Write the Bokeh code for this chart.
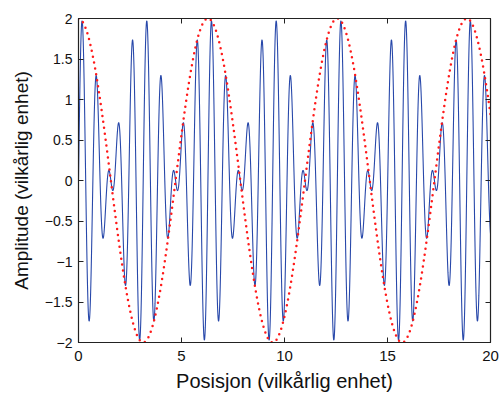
import numpy as np
from bokeh.plotting import figure
from bokeh.models import Range1d, LinearAxis, FixedTicker
from bokeh.embed import file_html
from bokeh.resources import INLINE

# --- data ---
x_min, x_max = 0, 20
y_min, y_max = -2, 2
x_ticks = [0, 5, 10, 15, 20]
x_tick_labels = ["0", "5", "10", "15", "20"]
y_ticks = [-2, -1.5, -1, -0.5, 0, 0.5, 1, 1.5, 2]
y_tick_labels = ["\u22122", "\u22121.5", "\u22121", "\u22120.5", "0", "0.5", "1", "1.5", "2"]

# blue curve: superposition of two waves of equal amplitude (wavenumbers 8 and 10)
wave_amplitudes = [1.0, 1.0]
wave_numbers = [8.0, 10.0]
# red dotted curve: envelope, amplitude 2, wavenumber 1
envelope_amplitude = 2.0
envelope_wavenumber = 1.0

x_label = "Posisjon (vilkårlig enhet)"
y_label = "Amplitude (vilkårlig enhet)"

xs = np.linspace(x_min, x_max, 4001)
blue = sum(a * np.sin(k * xs) for a, k in zip(wave_amplitudes, wave_numbers))
red = envelope_amplitude * np.cos(envelope_wavenumber * xs)

FONT = "Liberation Sans"

p = figure(width=503, height=394, output_backend="svg", toolbar_location=None,
           x_range=Range1d(x_min, x_max), y_range=Range1d(y_min, y_max),
           min_border_left=78, min_border_right=13, min_border_top=18, min_border_bottom=49)
p.background_fill_color = "white"
p.border_fill_color = "white"
p.outline_line_color = "#222222"
p.outline_line_width = 1.2
p.xgrid.visible = False
p.ygrid.visible = False

p.line(xs, blue, line_color="#2848aa", line_width=1.1)
p.line(xs, red, line_color="#ff1a1a", line_width=2.5, line_dash="0 6", line_cap="round")

def style(ax, ticks, labels, size="14px", show_labels=True):
    ax.ticker = FixedTicker(ticks=ticks)
    ax.major_label_overrides = {float(t): s for t, s in zip(ticks, labels)}
    ax.major_tick_in = 5
    ax.major_tick_out = 0
    ax.minor_tick_line_color = None
    ax.major_tick_line_color = "#222222"
    ax.axis_line_color = "#222222"
    ax.major_label_text_font = FONT
    ax.major_label_text_font_size = size
    ax.major_label_text_color = "#111111" if show_labels else None
    ax.axis_label_text_font = FONT
    ax.axis_label_text_font_style = "normal"
    ax.axis_label_text_color = "#111111"

style(p.xaxis[0], x_ticks, x_tick_labels, size="15px")
style(p.yaxis[0], y_ticks, y_tick_labels, size="14px")
p.xaxis[0].axis_label = x_label
p.yaxis[0].axis_label = y_label
p.xaxis[0].axis_label_text_font_size = "20px"
p.yaxis[0].axis_label_text_font_size = "19px"
p.xaxis[0].major_label_standoff = 8
p.yaxis[0].major_label_standoff = 6
p.xaxis[0].axis_label_standoff = 6
p.yaxis[0].axis_label_standoff = 10

top = LinearAxis()
style(top, x_ticks, x_tick_labels, size="1px", show_labels=False)
top.major_label_standoff = 0
p.add_layout(top, "above")
right = LinearAxis()
style(right, y_ticks, y_tick_labels, size="1px", show_labels=False)
right.major_label_standoff = 0
p.add_layout(right, "right")

open("out.html", "w").write(file_html(p, INLINE))
